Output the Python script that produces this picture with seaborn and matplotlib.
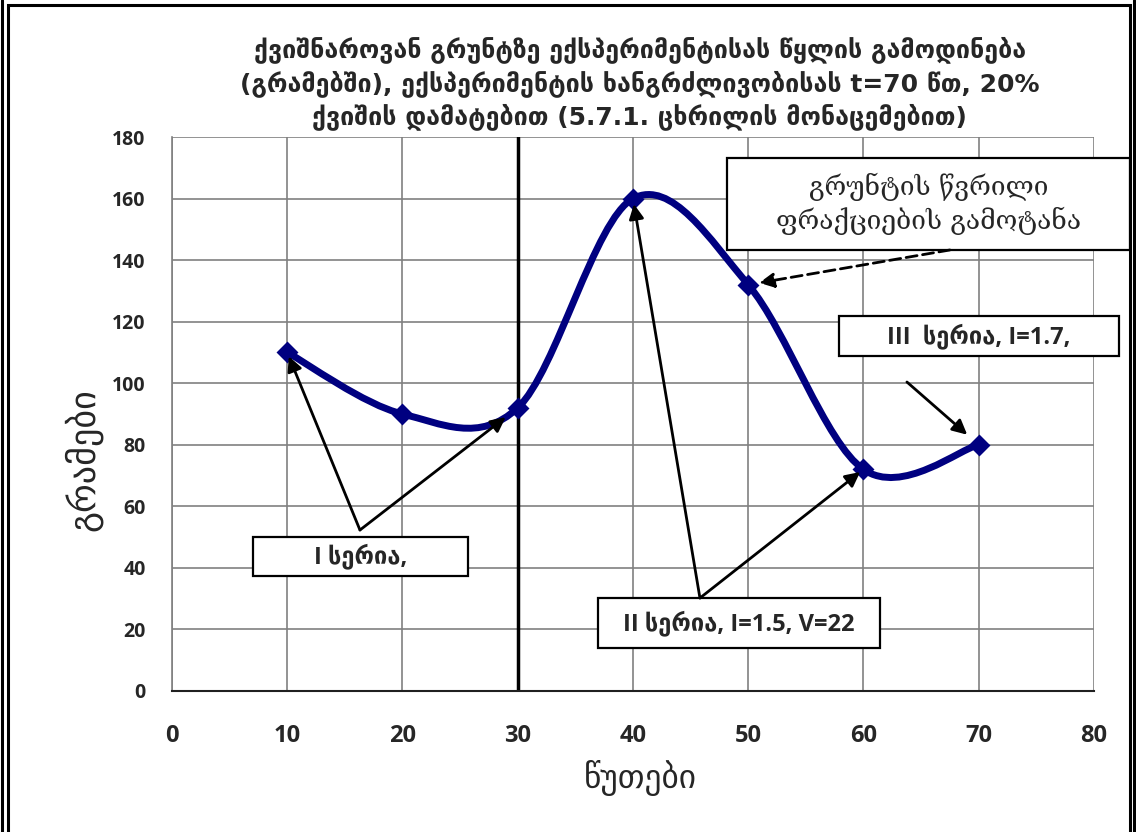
import matplotlib
matplotlib.use("Agg")
import numpy as np
import pandas as pd
import matplotlib.pyplot as plt
import seaborn as sns
from matplotlib.path import Path
from matplotlib.patches import PathPatch, Rectangle

# ---- data ----
minutes = [10, 20, 30, 40, 50, 60, 70]
grams = [110, 90, 92, 160, 132, 72, 80]
x_ticks = [0, 10, 20, 30, 40, 50, 60, 70, 80]
y_ticks = [0, 20, 40, 60, 80, 100, 120, 140, 160, 180]
series_split = 30

title_text = ("ქვიშნაროვან გრუნტზე ექსპერიმენტისას წყლის გამოდინება\n"
              "(გრამებში), ექსპერიმენტის ხანგრძლივობისას t=70 წთ, 20%\n"
              "ქვიშის დამატებით (5.7.1. ცხრილის მონაცემებით)")
x_label = "წუთები"
y_label = "გრამები"
note_fines = "გრუნტის წვრილი\nფრაქციების გამოტანა"
note_s1 = "I სერია,"
note_s2 = "II სერია, I=1.5, V=22"
note_s3 = "III  სერია, I=1.7,"

df = pd.DataFrame({"minutes": minutes, "grams": grams})

sns.set_theme(style="white")
plt.rcParams["font.family"] = ["DejaVu Sans"]

NAVY = "#000080"
GRID = "#808080"

fig = plt.figure(figsize=(11.36, 8.32), dpi=100)
ax = fig.add_axes([0.1514, 0.1695, 0.8116, 0.6658])

ax.set_xlim(0, 80)
ax.set_ylim(0, 180)
ax.set_xticks(x_ticks)
ax.set_yticks(y_ticks)
ax.grid(True, color=GRID, lw=1.2)
ax.set_axisbelow(True)
for side in ("top", "right"):
    ax.spines[side].set_visible(False)
ax.spines["left"].set_color(GRID)
ax.spines["left"].set_linewidth(1.2)
ax.spines["bottom"].set_color("#202020")
ax.spines["bottom"].set_linewidth(1.5)
ax.tick_params(axis="both", direction="out", length=7, width=1.2, color=GRID)
ax.tick_params(axis="x", pad=17)
ax.tick_params(axis="y", pad=12)
for lab in ax.get_yticklabels():
    lab.set_fontfamily(["Open Sans", "DejaVu Sans"])
    lab.set_fontweight("bold")
    lab.set_fontsize(14)
for lab in ax.get_xticklabels():
    lab.set_fontfamily(["Liberation Sans Narrow", "Open Sans", "DejaVu Sans"])
    lab.set_fontweight("bold")
    lab.set_fontsize(17)


def smooth_path(xs, ys):
    """Cubic Bezier through the points, tangents from neighbouring points."""
    pts = np.column_stack([xs, ys]).astype(float)
    n = len(pts)
    verts = [pts[0]]
    codes = [Path.MOVETO]
    for i in range(n - 1):
        p0 = pts[i - 1] if i > 0 else pts[i]
        p1, p2 = pts[i], pts[i + 1]
        p3 = pts[i + 2] if i + 2 < n else pts[i + 1]
        verts += [p1 + (p2 - p0) / 6.0, p2 - (p3 - p1) / 6.0, p2]
        codes += [Path.CURVE4] * 3
    return Path(verts, codes)


curve = PathPatch(smooth_path(df["minutes"], df["grams"]), facecolor="none",
                  edgecolor=NAVY, lw=5, capstyle="round", zorder=3)
ax.add_patch(curve)
sns.scatterplot(data=df, x="minutes", y="grams", marker="D", s=125,
                color=NAVY, edgecolor=NAVY, linewidth=0, zorder=4, ax=ax)

ax.axvline(series_split, color="black", lw=2.5, zorder=2)

ax.set_xlabel(x_label, fontsize=24)
ax.set_ylabel(y_label, fontsize=26)
ax.xaxis.set_label_coords(0.508, -0.125)
ax.yaxis.set_label_coords(-0.075, 0.417)

fig.text(0.563, 0.900, title_text, ha="center", va="center", fontsize=18,
         fontweight="bold", linespacing=1.3)


def note_box(x0, y0, w, h, text, **kw):
    ax.add_patch(Rectangle((x0, y0), w, h, facecolor="white", edgecolor="black",
                           lw=1.6, zorder=5, clip_on=False))
    ax.text(x0 + w / 2, y0 + h / 2, text, ha="center", va="center",
            zorder=6, clip_on=False, **kw)


def arrow(start, end, shrink, **kw):
    props = dict(arrowstyle="-|>", color="black", lw=2, mutation_scale=22,
                 shrinkA=0, shrinkB=shrink)
    props.update(kw)
    ax.annotate("", xy=end, xytext=start, xycoords="data", textcoords="data",
                arrowprops=props, zorder=7, annotation_clip=False)


bold_mix = dict(fontfamily=["Open Sans", "DejaVu Sans"], fontweight="bold")

note_box(7.03, 37.4, 18.65, 12.66, note_s1, fontsize=17, **bold_mix)
note_box(36.96, 13.97, 24.47, 16.25, note_s2, fontsize=17, **bold_mix)
note_box(57.87, 108.8, 24.3, 13.0, note_s3, fontsize=17, **bold_mix)
note_box(48.16, 143.3, 34.96, 29.9, note_fines, fontsize=19,
         fontfamily=["DejaVu Serif"], linespacing=1.25)

pts = dict(zip(minutes, grams))
arrow((16.31, 52.3), (10, pts[10]), 3)
arrow((16.31, 52.3), (30, pts[30]), 11)
arrow((45.81, 30.2), (40, pts[40]), 4)
arrow((45.81, 30.2), (60, pts[60]), 3)
arrow((63.77, 100.4), (70, pts[70]), 11)
arrow((67.5, 143.3), (50, pts[50]), 8, linestyle=(0, (4, 2)))

# double frame around the figure
fig.add_artist(Rectangle((7.5 / 1136, -0.01), (1130 - 7.5) / 1136, 1 - 5 / 832 + 0.01,
                         transform=fig.transFigure, fill=False, edgecolor="black", lw=2.2))
for xp in (1.5, 1133.5):
    fig.add_artist(plt.Line2D([xp / 1136, xp / 1136], [0, 1], transform=fig.transFigure,
                              color="black", lw=2.2))

fig.savefig("out.png", dpi=100)
